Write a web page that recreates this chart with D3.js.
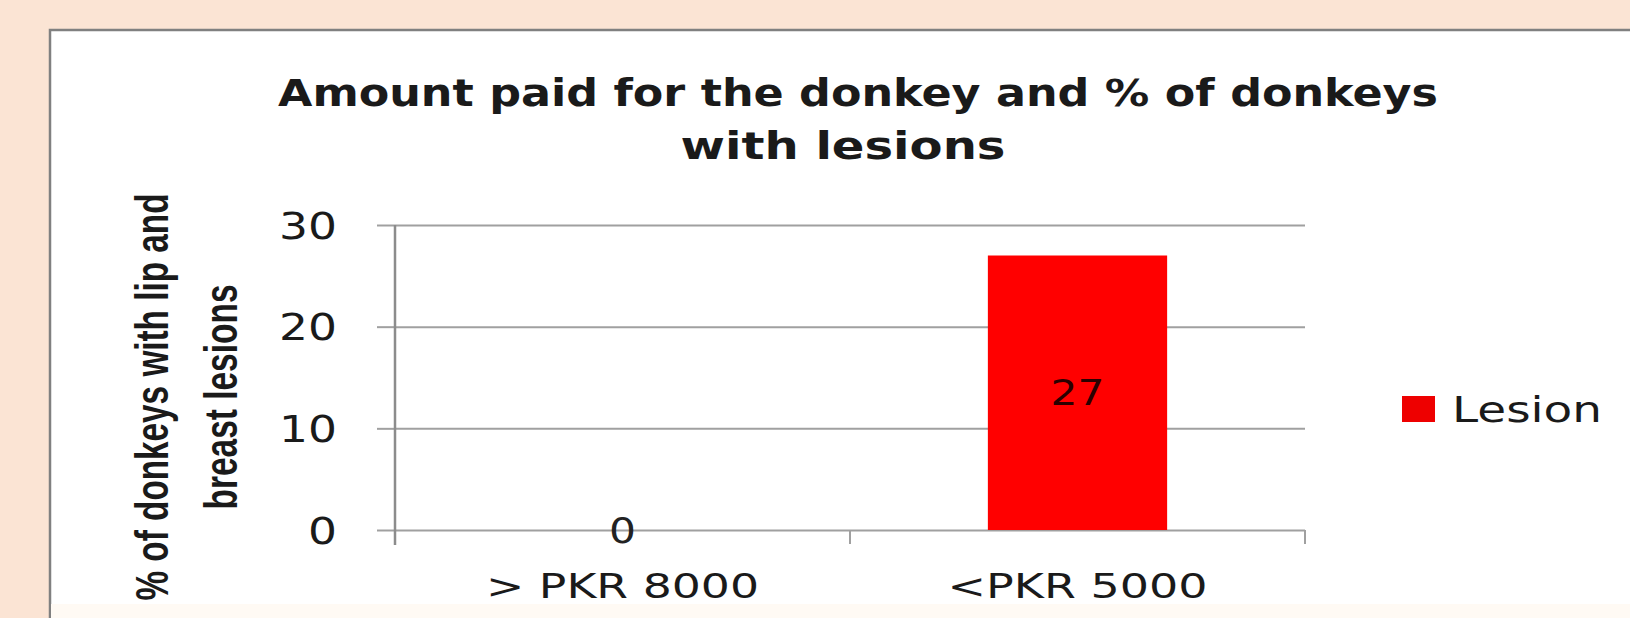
<!doctype html>
<html>
  <style>
    body {
      margin: 0;
      background-color: #fbe4d4;
    }
    text {
      font-family: "DejaVu Sans", Verdana, sans-serif;
      fill: #1a1a1a;
    }
  </style>
  <body>
  <script src="https://cdn.jsdelivr.net/npm/d3@7"></script>
  <script>
    var categories = ['> PKR 8000', '<PKR 5000'];
    var lesionValues = [0, 27];
    var yTicks = [0, 10, 20, 30];
    var seriesName = 'Lesion';
    var titleLines = ['Amount paid for the donkey and % of donkeys', 'with lesions'];
    var yLabelLines = ['% of donkeys with lip and', 'breast lesions'];

    var width = 1630,
        height = 618;

    var svg = d3.select('body').append('svg')
        .attr('width', width)
        .attr('height', height);

    // white chart panel
    svg.append('rect')
        .attr('x', 50).attr('y', 30)
        .attr('width', 1600).attr('height', 620)
        .attr('fill', '#fff')
        .attr('stroke', '#808080')
        .attr('stroke-width', 2.5);
    svg.append('rect')
        .attr('x', 51).attr('y', 604)
        .attr('width', 1600).attr('height', 20)
        .attr('fill', '#fffaf4');

    var plotLeft = 395, plotRight = 1305, plotTop = 225, plotBottom = 530;

    var x = d3.scaleBand()
        .domain(categories)
        .range([plotLeft, plotRight]);

    var y = d3.scaleLinear()
        .domain([0, 30])
        .range([plotBottom, plotTop]);

    // the picture is stretched sideways, so texts get forced widths
    function fit(sel, w) {
      sel.attr('textLength', w).attr('lengthAdjust', 'spacingAndGlyphs');
    }

    // gridlines
    svg.append('g')
        .attr('transform', 'translate(' + plotLeft + ',0)')
        .call(d3.axisLeft(y).tickValues(yTicks).tickSize(-(plotRight - plotLeft)).tickFormat(''))
        .call(function (g) {
          g.select('.domain').remove();
          g.selectAll('line').attr('stroke', '#a0a0a0').attr('stroke-width', 2);
        });

    // y axis
    var yAxis = svg.append('g')
        .attr('transform', 'translate(' + plotLeft + ',0)')
        .call(d3.axisLeft(y).tickValues(yTicks).tickSize(18).tickSizeOuter(0).tickPadding(40));
    yAxis.select('.domain').remove();
    yAxis.selectAll('line').attr('stroke', '#a0a0a0').attr('stroke-width', 2);
    yAxis.selectAll('text')
        .style('font-size', '37px')
        .style('fill', '#1a1a1a')
        .attr('dy', '0.36em')
        .each(function (d) {
          fit(d3.select(this), String(d).length * 29);
        });
    svg.append('line')
        .attr('x1', plotLeft).attr('x2', plotLeft)
        .attr('y1', plotTop).attr('y2', plotBottom + 15)
        .attr('stroke', '#8c8c8c').attr('stroke-width', 2.5);

    // x axis: ticks between categories
    var bounds = categories.map(function (c) { return x(c); }).concat([plotRight]);
    svg.append('g').selectAll('line')
        .data(bounds.slice(1))
        .join('line')
        .attr('x1', function (d) { return d; })
        .attr('x2', function (d) { return d; })
        .attr('y1', plotBottom)
        .attr('y2', plotBottom + 14)
        .attr('stroke', '#a0a0a0')
        .attr('stroke-width', 2);

    var xWidths = [273, 260];
    svg.append('g').selectAll('text')
        .data(categories)
        .join('text')
        .attr('x', function (d) { return x(d) + x.bandwidth() / 2; })
        .attr('y', 598)
        .attr('text-anchor', 'middle')
        .style('font-size', '34px')
        .text(function (d) { return d; })
        .each(function (d, i) { fit(d3.select(this), xWidths[i]); });

    // bars
    var barW = x.bandwidth() * 0.394;
    svg.append('g').selectAll('rect')
        .data(lesionValues)
        .join('rect')
        .attr('x', function (d, i) { return x(categories[i]) + (x.bandwidth() - barW) / 2; })
        .attr('y', function (d) { return y(d); })
        .attr('width', barW)
        .attr('height', function (d) { return y(0) - y(d); })
        .attr('fill', '#ff0000');

    // value labels, centred in the bar
    svg.append('g').selectAll('text')
        .data(lesionValues)
        .join('text')
        .attr('x', function (d, i) { return x(categories[i]) + x.bandwidth() / 2; })
        .attr('y', function (d) { return (y(d) + y(0)) / 2; })
        .attr('dy', '0.36em')
        .attr('text-anchor', 'middle')
        .style('font-size', '35px')
        .style('fill', function (d) { return d > 0 ? '#2a0000' : '#222'; })
        .text(function (d) { return d; })
        .each(function (d) { fit(d3.select(this), String(d).length * 27); });

    // title
    var titleWidths = [1160, 325],
        titleCentres = [858, 843];
    svg.append('g').selectAll('text')
        .data(titleLines)
        .join('text')
        .attr('x', function (d, i) { return titleCentres[i]; })
        .attr('y', function (d, i) { return 106 + i * 53; })
        .attr('text-anchor', 'middle')
        .style('font-size', '37px')
        .style('font-weight', 'bold')
        .text(function (d) { return d; })
        .each(function (d, i) { fit(d3.select(this), titleWidths[i]); });

    // y label, two rotated lines
    var yLabelLengths = [407, 225];
    svg.append('g')
        .attr('transform', 'translate(0,397) rotate(-90)')
        .selectAll('text')
        .data(yLabelLines)
        .join('text')
        .attr('x', 0)
        .attr('y', function (d, i) { return 168 + i * 69; })
        .attr('text-anchor', 'middle')
        .style('font-family', '"Liberation Sans Narrow", "Liberation Sans", sans-serif')
        .style('font-size', '46px')
        .style('font-weight', 'bold')
        .text(function (d) { return d; })
        .each(function (d, i) { fit(d3.select(this), yLabelLengths[i]); });

    // legend
    var legend = svg.append('g');
    legend.append('rect')
        .attr('x', 1402).attr('y', 396)
        .attr('width', 33).attr('height', 26)
        .attr('fill', '#ee0000');
    legend.append('text')
        .attr('x', 1452).attr('y', 422)
        .style('font-size', '36px')
        .text(seriesName)
        .call(fit, 150);
  </script>
  </body>
</html>
